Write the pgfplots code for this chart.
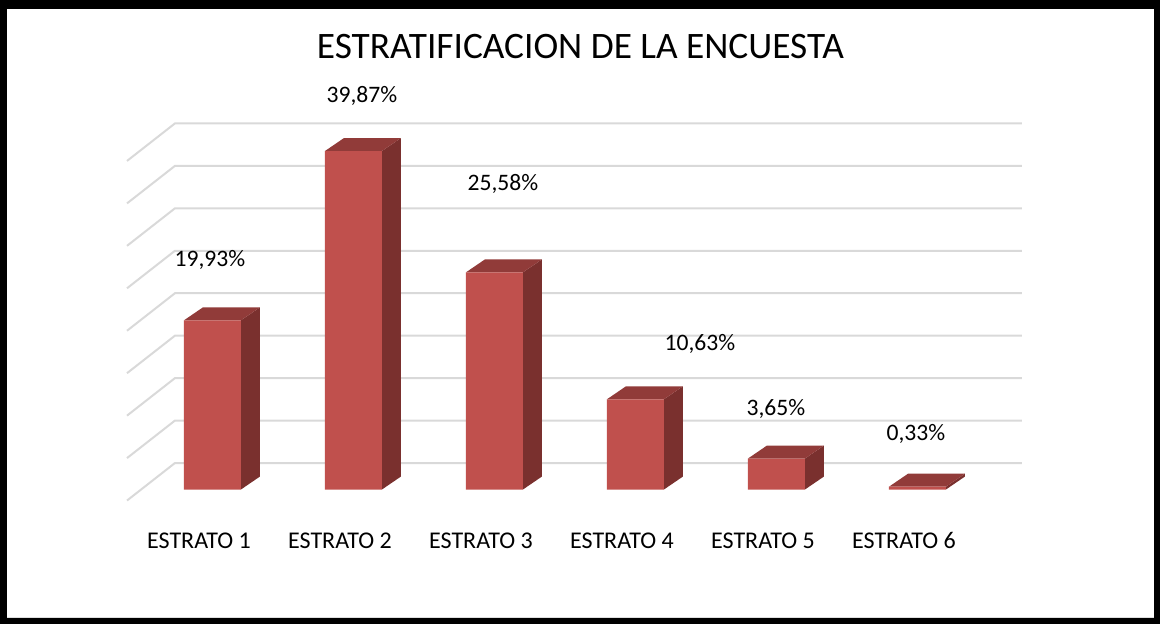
\documentclass[border=0pt]{standalone}
\usepackage{pgfplots}
\pgfplotsset{compat=1.18}
\usepackage{fontspec}
\setmainfont{Carlito}
\definecolor{barfront}{HTML}{C0504D}
\definecolor{bartop}{HTML}{913B39}
\definecolor{barside}{HTML}{7A302E}
\definecolor{gridc}{HTML}{D9D9D9}
\begin{document}
\begin{tikzpicture}[x=0.75pt,y=0.75pt]
\begin{axis}[
  x=105.75pt, y=6.3675pt,
  xmin=-0.606, xmax=5.741, ymin=-2, ymax=45,
  clip=false,
  axis line style={draw=none},
  major tick length=0pt,
  ytick=\empty,
  xtick={0,1,2,3,4,5},
  xticklabels={ESTRATO 1,ESTRATO 2,ESTRATO 3,ESTRATO 4,ESTRATO 5,ESTRATO 6},
  xticklabel style={anchor=base,yshift=-31.2pt,xshift=-10.1pt,font=\fontsize{18}{21}\selectfont},
]
\coordinate (O) at (axis cs:-0.606,-2);
% gridlines (left wall + back wall)
\addplot[gridc, line width=1.5pt, unbounded coords=jump, mark=none] coordinates {
(-0.606,-1.30) (-0.266,3.12) (5.741,3.12) (nan,nan)
(-0.606,3.70) (-0.266,8.12) (5.741,8.12) (nan,nan)
(-0.606,8.70) (-0.266,13.12) (5.741,13.12) (nan,nan)
(-0.606,13.70) (-0.266,18.12) (5.741,18.12) (nan,nan)
(-0.606,18.70) (-0.266,23.12) (5.741,23.12) (nan,nan)
(-0.606,23.70) (-0.266,28.12) (5.741,28.12) (nan,nan)
(-0.606,28.70) (-0.266,33.12) (5.741,33.12) (nan,nan)
(-0.606,33.70) (-0.266,38.12) (5.741,38.12) (nan,nan)
(-0.606,38.70) (-0.266,43.12) (5.741,43.12)
};
% side faces
\addplot[fill=barside,draw=none] coordinates {(0.202,0) (0.337,1.53) (0.337,21.46) (0.202,19.93)} -- cycle;
\addplot[fill=barside,draw=none] coordinates {(1.202,0) (1.337,1.53) (1.337,41.40) (1.202,39.87)} -- cycle;
\addplot[fill=barside,draw=none] coordinates {(2.202,0) (2.337,1.53) (2.337,27.11) (2.202,25.58)} -- cycle;
\addplot[fill=barside,draw=none] coordinates {(3.202,0) (3.337,1.53) (3.337,12.16) (3.202,10.63)} -- cycle;
\addplot[fill=barside,draw=none] coordinates {(4.202,0) (4.337,1.53) (4.337,5.18) (4.202,3.65)} -- cycle;
\addplot[fill=barside,draw=none] coordinates {(5.202,0) (5.337,1.53) (5.337,1.86) (5.202,0.33)} -- cycle;
% top faces
\addplot[fill=bartop,draw=none] coordinates {(-0.202,19.93) (0.202,19.93) (0.337,21.46) (-0.067,21.46)} -- cycle;
\addplot[fill=bartop,draw=none] coordinates {(0.798,39.87) (1.202,39.87) (1.337,41.40) (0.933,41.40)} -- cycle;
\addplot[fill=bartop,draw=none] coordinates {(1.798,25.58) (2.202,25.58) (2.337,27.11) (1.933,27.11)} -- cycle;
\addplot[fill=bartop,draw=none] coordinates {(2.798,10.63) (3.202,10.63) (3.337,12.16) (2.933,12.16)} -- cycle;
\addplot[fill=bartop,draw=none] coordinates {(3.798,3.65) (4.202,3.65) (4.337,5.18) (3.933,5.18)} -- cycle;
\addplot[fill=bartop,draw=none] coordinates {(4.798,0.33) (5.202,0.33) (5.337,1.86) (4.933,1.86)} -- cycle;
% front faces
\addplot[ybar, bar width=0.404, bar shift=0pt, fill=barfront, draw=none] coordinates {
(0,19.93) (1,39.87) (2,25.58) (3,10.63) (4,3.65) (5,0.33)};
% data labels
\addplot[draw=none, mark=none, nodes near coords, point meta=explicit symbolic,
  every node near coord/.append style={anchor=base, inner sep=0pt, font=\fontsize{17.7}{21}\selectfont, text=black}]
  table[meta=lab] {
x y lab
-0.018 26.21 19,93\%
1.060 45.58 39,87\%
2.060 35.22 25,58\%
3.457 16.37 10,63\%
3.996 8.72 3,65\%
4.989 5.83 0,33\%
};
\end{axis}
\begin{scope}[shift={(O)}]
\fill[black,even odd rule] (-127,-117.5) rectangle (1033,506.5) (-120,-111.5) rectangle (1027,497.5);
\node[anchor=base,font=\fontsize{28}{33}\selectfont,inner sep=0pt] at (453.5,448.2) {ESTRATIFICACION DE LA ENCUESTA};
\end{scope}
\end{tikzpicture}
\end{document}
